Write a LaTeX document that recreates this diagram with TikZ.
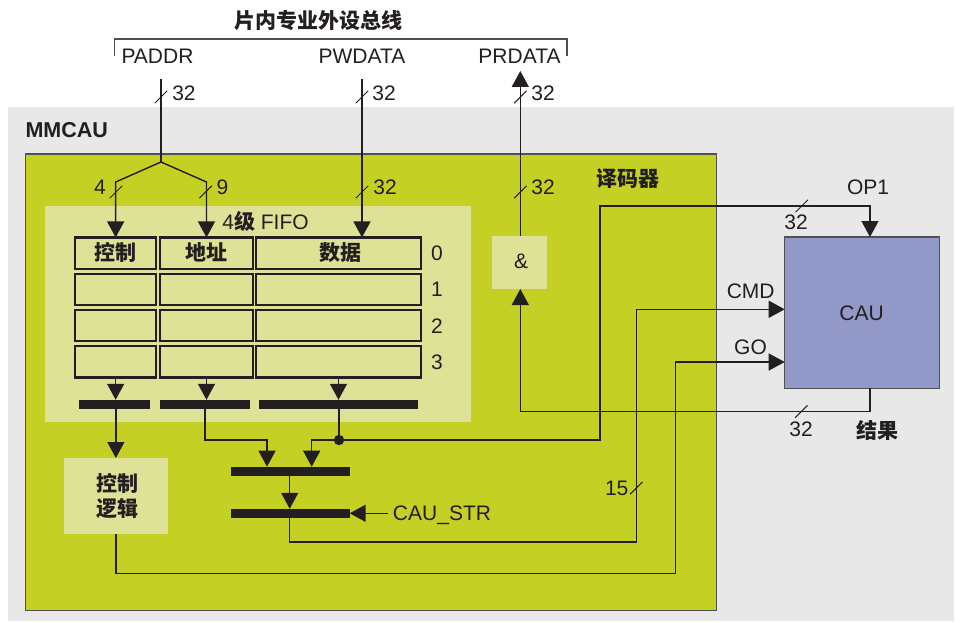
\documentclass[tikz,border=0pt]{standalone}
\usepackage{fontspec}
\setmainfont{Liberation Sans}
\newfontfamily\cjk{Noto Sans CJK SC}
\usetikzlibrary{arrows.meta}
\definecolor{bggray}{RGB}{232,232,232}
\definecolor{lime}{RGB}{196,208,36}
\definecolor{pale}{RGB}{222,226,150}
\definecolor{caublue}{RGB}{146,153,201}
\definecolor{ink}{RGB}{35,31,32}
\definecolor{edge}{RGB}{80,80,80}
\begin{document}
\begin{tikzpicture}[x=1pt,y=-1pt,
  every node/.style={inner sep=0pt, outer sep=0pt},
  lbl/.style={font=\fontsize{21}{25}\selectfont, text=ink, anchor=base},
  cj/.style={font=\cjk\bfseries\fontsize{21}{25}\selectfont, text=ink, anchor=base},
  wire/.style={draw=ink, line width=1.4pt},
  arr/.style={-{Triangle[length=16pt,width=17pt]}},
  tick/.style={draw=ink, line width=1pt},
  cell/.style={draw=ink, line width=2.2pt, fill=pale, minimum height=31.5pt},
  bar/.style={fill=ink, minimum height=9pt},
  box/.style={fill=pale},
]
\useasboundingbox (0,0) rectangle (963,623);
% backgrounds
\node[fill=bggray, minimum width=946pt, minimum height=514pt] (bg) at (481,364) {};
\node[fill=lime, draw=edge, line width=1.5pt, minimum width=691pt, minimum height=456.7pt] (dec) at (371.2,382.35) {};
\node[box, minimum width=426pt, minimum height=215.7pt] (fifo) at (258,313.85) {};
% bus bracket and title
\node[cj] (title) at (318,29) {片内专业外设总线};
\coordinate (bl) at (114.7,56);
\coordinate (br2) at (567,56.5);
\draw[draw=edge, line width=1.3pt] (bl) -- (bl |- 0,39) -- (br2 |- 0,39) -- (br2);
\node[lbl] (paddr) at (157.5,64) {PADDR};
\node[lbl] (pwdata) at (362,64) {PWDATA};
\node[lbl] (prdata) at (519.5,64) {PRDATA};
% labels
\node[lbl, font=\fontsize{21.5}{25}\selectfont\bfseries] (mmcau) at (66.7,137.7) {MMCAU};
\node[lbl] (fifolbl) at (265.5,229) {4{\cjk\bfseries 级} FIFO};
\node[cj] (declbl) at (627.5,186.5) {译码器};
% FIFO cells
\foreach \r/\y in {0/253.2,1/289.4,2/325.6,3/361.8}{
  \node[cell, minimum width=81.3pt] (c\r1) at (115.65,\y) {};
  \node[cell, minimum width=92.4pt] (c\r2) at (206.5,\y) {};
  \node[cell, minimum width=164.4pt] (c\r3) at (338.5,\y) {};
}
\node[cj] (t1) at (115.5,260.5) {控制};
\node[cj] (t2) at (206.5,260.5) {地址};
\node[cj] (t3) at (340,260.5) {数据};
\node[lbl] (n0) at (437,260.7) {0};
\node[lbl] (n1) at (437,296.7) {1};
\node[lbl] (n2) at (437,333) {2};
\node[lbl] (n3) at (437,369) {3};
% bars
\node[bar, minimum width=71pt] (bar1) at (114.5,404.3) {};
\node[bar, minimum width=90pt] (bar2) at (205,404.3) {};
\node[bar, minimum width=159pt] (bar3) at (338.5,404.3) {};
\node[bar, minimum width=118.7pt] (bar4) at (290.3,471.2) {};
\node[bar, minimum width=118.7pt] (bar5) at (290.3,513.3) {};
% boxes
\node[box, minimum width=103.7pt, minimum height=75.7pt] (ctrl) at (115.85,495.85) {};
\node[cj] (ctrl1) at (117,491) {控制};
\node[cj] (ctrl2) at (117,516.5) {逻辑};
\node[box, minimum width=55pt, minimum height=53pt] (and) at (519.5,262.5) {};
\node[lbl] (andlbl) at (521,268) {\&};
\node[fill=caublue, draw=edge, line width=1.2pt, minimum width=154.6pt, minimum height=151.3pt] (cau) at (862,312.65) {};
\node[lbl] (caulbl) at (861.5,320.7) {CAU};
% other labels
\node[lbl] (op1) at (868,194) {OP1};
\node[lbl] (cmd) at (750.7,298) {CMD};
\node[lbl] (go) at (750.5,354) {GO};
\node[cj] (res) at (877,438.5) {结果};
\node[lbl] (cstrlbl) at (442,520) {CAU\_STR};
\node[lbl] (w1) at (184,100.7) {32};
\node[lbl] (w2) at (384,100.7) {32};
\node[lbl] (w3) at (543,100.7) {32};
\node[lbl] (w4) at (100,194) {4};
\node[lbl] (w5) at (222.5,194) {9};
\node[lbl] (w6) at (385,194) {32};
\node[lbl] (w7) at (543,194) {32};
\node[lbl] (w8) at (796,229) {32};
\node[lbl] (w9) at (801,436.7) {32};
\node[lbl] (w10) at (616.7,495) {15};
% coordinates
\coordinate (pa) at (161,79);
\coordinate (split) at (161,162);
\coordinate (pw) at (362,79);
\coordinate (pr) at (520.3,71);
\coordinate (dot) at (339,440);
\coordinate (turn2) at (205,440);
\coordinate (in4a) at (267,440);
\coordinate (in4b) at (311.7,440);
\coordinate (opc) at (600,440);
\coordinate (opt) at (600,206);
\coordinate (op1c) at (870,206);
\coordinate (cstr) at (388,513.3);
\coordinate (cmdb) at (636.3,542);
\coordinate (cmdt) at (636.3,309.3);
\coordinate (gob) at (675.3,573.3);
\coordinate (got) at (675.3,362);
\coordinate (resc) at (870,411.7);
% wires
\draw[wire] (pa) -- (split);
\draw[wire, arr] (split) -- (c01.north |- 0,182) -- (c01.north);
\draw[wire, arr] (split) -- (c02.north |- 0,182) -- (c02.north);
\draw[wire, arr] (pw) -- (pw |- c03.north);
\draw[wire, arr] (and.north -| pr) -- (pr);
\draw[wire, arr] (c31.south) -- (c31.south |- bar1.north);
\draw[wire, arr] (c32.south) -- (c32.south |- bar2.north);
\draw[wire, arr] (c33.south) -- (c33.south |- bar3.north);
\draw[wire, arr] (bar1.south -| ctrl.north) -- (ctrl.north);
\draw[wire, arr] (bar2.south) -- (turn2) -- (in4a) -- (in4a |- bar4.north);
\draw[wire] (bar3.south -| dot) -- (dot);
\fill[ink] (dot) circle (5.2pt);
\draw[wire, arr] (dot) -- (in4b) -- (in4b |- bar4.north);
\draw[wire, arr] (dot) -- (opc) -- (opt) -- (op1c) -- (op1c |- cau.north);
\draw[wire, arr] (bar4.south -| 289.7,0) -- (bar5.north -| 289.7,0);
\draw[wire, arr] (cstr) -- (bar5.east);
\draw[wire, arr] (bar5.south -| 289.7,0) -- (289.7,542) -- (cmdb) -- (cmdt) -- (cmdt -| cau.west);
\draw[wire, arr] (ctrl.south) -- (ctrl.south |- gob) -- (gob) -- (got) -- (got -| cau.west);
\draw[wire, arr] (cau.south -| resc) -- (resc) -- (resc -| pr) -- (and.south -| pr);
% width ticks
\foreach \p in {(161,97),(362,97),(520.3,97),(116,192),(205.7,192),(362,192),(520.3,192),(801.7,206),(801.3,411.5),(636.3,488)}{
  \draw[tick] \p ++(-6.2,6.2) -- ++(12.4,-12.4);
}
\end{tikzpicture}
\end{document}
